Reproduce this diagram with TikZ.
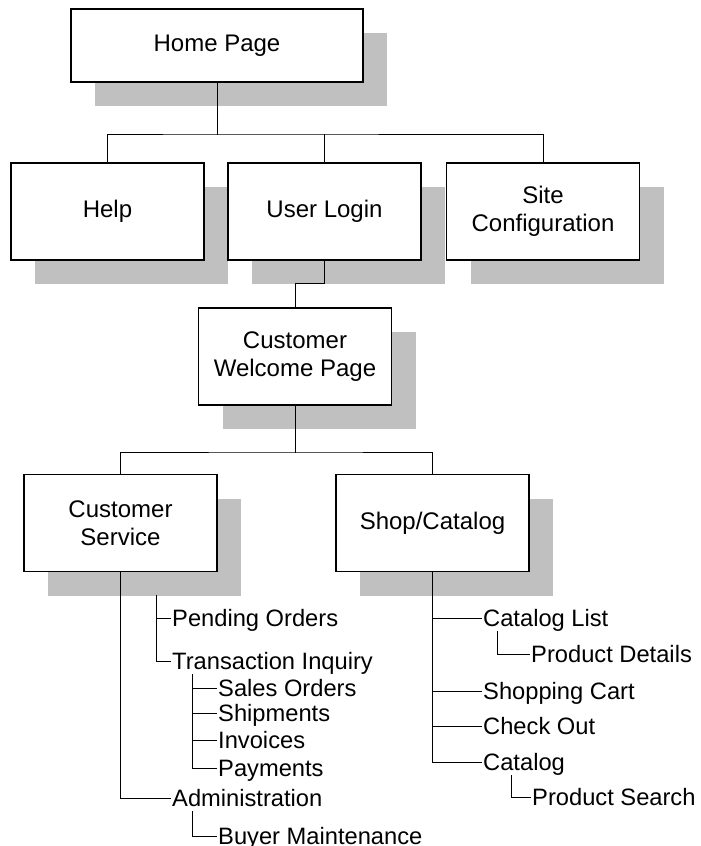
\documentclass[tikz,border=0pt]{standalone}
\usepackage{fontspec}
\setmainfont{Liberation Sans}
\usetikzlibrary{shadows,calc}
\definecolor{shadowgray}{HTML}{C0C0C0}
\newcommand\boxfont{\fontsize{24}{27.5}\selectfont}
\newcommand\itemfont{\fontsize{23.7}{27.5}\selectfont}
\tikzset{
  pagebox/.style={draw, line width=1.5pt, fill=white, align=center,
    minimum width=193pt, minimum height=97pt, inner sep=2pt, font=\boxfont,
    drop shadow={shadow xshift=24pt, shadow yshift=-24pt, fill=shadowgray, opacity=1}},
  item/.style={anchor=west, inner xsep=2pt, inner ysep=0pt,
    text height=22pt, text depth=5.2pt, font=\itemfont},
  link/.style={line width=1pt, line cap=rect},
}
\begin{document}
\begin{tikzpicture}[x=1pt, y=-1pt]
\useasboundingbox (0,0) rectangle (701,846);

% page boxes
\node[pagebox, minimum width=292pt, minimum height=73pt] (home) at (217,45.5) {Home Page};
\node[pagebox] (help) at (107.5,211.5) {Help};
\node[pagebox] (login) at (324.5,211.5) {User Login};
\node[pagebox] (site) at (543,211.5) {Site\\Configuration};
\node[pagebox] (welcome) at (295,356.5) {Customer\\Welcome Page};
\node[pagebox] (service) at (120.5,523) {Customer\\Service};
\node[pagebox] (shop) at (432.5,523) {Shop/Catalog};

% customer service items
\node[item] (pending) at (170,618) {Pending Orders};
\node[item] (inquiry) at (170,661) {Transaction Inquiry};
\node[item] (sales) at (216,688) {Sales Orders};
\node[item] (ship) at (216,713) {Shipments};
\node[item] (invoice) at (216,740) {Invoices};
\node[item] (payment) at (216,768) {Payments};
\node[item] (admin) at (170,798) {Administration};
\node[item] (buyer) at (216,836) {Buyer Maintenance};

% shop items
\node[item] (clist) at (481,618) {Catalog List};
\node[item] (pdetail) at (529,654) {Product Details};
\node[item] (cart) at (481,691) {Shopping Cart};
\node[item] (checkout) at (481,726) {Check Out};
\node[item] (catalog) at (481,762) {Catalog};
\node[item] (psearch) at (530,797) {Product Search};

% upper connectors
\coordinate (busA) at (217,134);
\draw[link] (home.south) -- (busA);
\draw[link] (help.north) |- (busA) -| (site.north);
\draw[link] (login.north) -- (login.north |- busA);
\draw[link] (login.south) -- ++(0,23) -| (welcome.north);
\coordinate (busB) at (295,452);
\draw[link] (welcome.south) -- (busB);
\draw[link] (service.north) |- (busB) -| (shop.north);

% customer service tree
\coordinate (cshang) at (156,595);
\draw[link] (service.south) |- (admin.west);
\draw[link] (cshang) |- (pending.west);
\draw[link] (cshang) |- (inquiry.west);
\coordinate (tisub) at ($(inquiry.south west)+(22,0)$);
\draw[link] (tisub) |- (sales.west);
\draw[link] (tisub) |- (ship.west);
\draw[link] (tisub) |- (invoice.west);
\draw[link] (tisub) |- (payment.west);
\draw[link] ($(admin.south west)+(22,0)$) |- (buyer.west);

% shop tree
\draw[link] (shop.south) |- (clist.west);
\draw[link] (shop.south) |- (cart.west);
\draw[link] (shop.south) |- (checkout.west);
\draw[link] (shop.south) |- (catalog.west);
\draw[link] ($(clist.south west)+(16,0)$) |- (pdetail.west);
\draw[link] ($(catalog.south west)+(30,0)$) |- (psearch.west);
\end{tikzpicture}
\end{document}
